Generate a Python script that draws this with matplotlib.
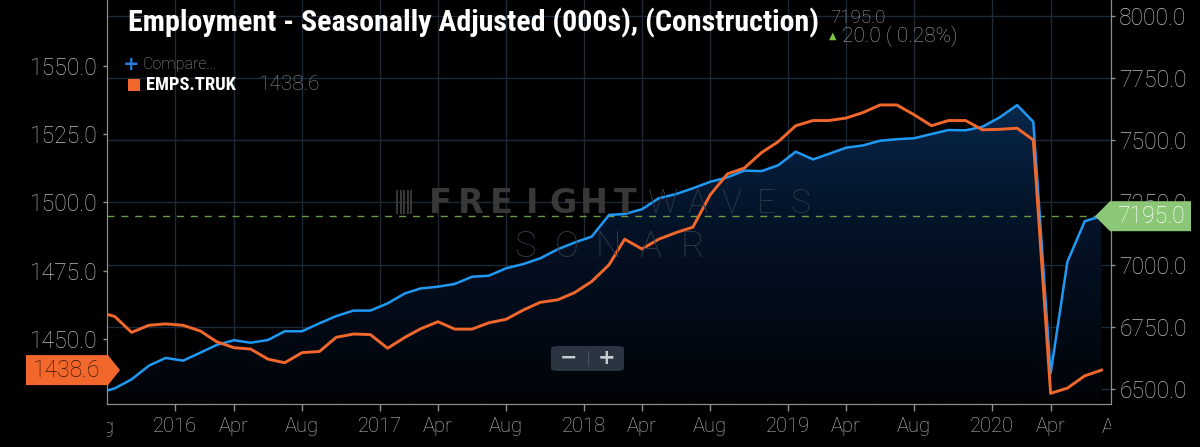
import numpy as np
import pandas as pd
import matplotlib
matplotlib.use('Agg')
import matplotlib.pyplot as plt
import matplotlib.dates as mdates
from matplotlib import font_manager
from matplotlib.font_manager import FontProperties
from matplotlib.colors import LinearSegmentedColormap
from matplotlib.patches import Polygon, FancyBboxPatch, Rectangle
from matplotlib.transforms import Bbox, TransformedBbox, blended_transform_factory

## monthly data, mid-month stamps, Aug 2015 .. Jul 2020
dates = pd.date_range('2015-08-01', '2020-07-01', freq='MS') + pd.Timedelta(days=14)

# Employment - Seasonally Adjusted (000s), Construction (right axis)
construction = [6483, 6504, 6540, 6595, 6626,
	6615, 6647, 6678, 6697, 6687, 6698, 6733, 6733, 6765, 6794, 6816, 6816,
	6845, 6885, 6905, 6912, 6923, 6952, 6956, 6986, 7003, 7026, 7062, 7089,
	7113, 7200, 7204, 7223, 7267, 7284, 7307, 7333, 7351, 7378, 7376, 7400,
	7454, 7423, 7445, 7470, 7479, 7498, 7504, 7508, 7525, 7541, 7540, 7554,
	7592, 7641, 7574, 6564, 7012, 7175, 7195]

# EMPS.TRUK (left axis)
trucking = [1460.0, 1458.2, 1452.4, 1455.0, 1455.5,
	1455.0, 1452.9, 1449.0, 1446.8, 1446.3, 1442.6, 1441.3, 1445.0, 1445.4, 1450.6, 1451.8, 1451.6,
	1446.6, 1450.6, 1453.7, 1456.3, 1453.6, 1453.6, 1455.9, 1457.2, 1460.6, 1463.4, 1464.3, 1466.9,
	1471.0, 1477.1, 1486.5, 1482.9, 1486.5, 1488.9, 1490.9, 1502.7, 1510.4, 1512.5, 1518.2, 1522.2,
	1528.0, 1529.9, 1529.9, 1530.8, 1532.8, 1535.6, 1535.6, 1532.0, 1528.0, 1529.9, 1529.9, 1526.5,
	1526.7, 1527.1, 1522.8, 1430.1, 1432.0, 1436.5, 1438.6]

left_ticks = [1450.0, 1475.0, 1500.0, 1525.0, 1550.0]
right_ticks = [6500.0, 6750.0, 7000.0, 7250.0, 7500.0, 7750.0, 8000.0]
title = 'Employment - Seasonally Adjusted (000s), (Construction)'
series_name = 'EMPS.TRUK'
change = 20.0
change_pct = 0.28

W, H = 1200, 447
BLUE = '#1f99f4'
ORANGE = '#f2682c'
GREEN = '#8cc677'
GRID = '#1d2936'
SPINE = '#8f8f8f'
TICKTXT = '#bcbcbc'

def fx(x): return x/W
def fy(y): return 1 - y/H

TICKFONT = dict(family=['Roboto', 'DejaVu Sans'], weight='light')

def pick_narrow_bold():
	## look for an installed condensed/narrow bold face, else Roboto bold
	best = None
	for f in font_manager.fontManager.ttflist:
		w = f.weight if isinstance(f.weight, int) else font_manager.weight_dict.get(f.weight, 400)
		tag = (f.name + ' ' + f.fname + ' ' + str(f.stretch)).lower()
		if w < 600 or not ('condensed' in tag or 'narrow' in tag):
			continue
		if 'italic' in f.fname.lower() or 'oblique' in f.fname.lower() or f.style != 'normal':
			continue
		if 'extra' in tag or 'ultra' in tag or 'semi' in tag:
			continue
		rank = 0 if 'roboto' in tag else 1 if 'liberation' in tag else 2 if 'noto' in tag else 3
		if best is None or rank < best[0] or (rank == best[0] and w < best[1]):
			best = (rank, w, f.fname)
	if best:
		return FontProperties(fname=best[2])
	return FontProperties(family='Roboto', weight='bold')

NARROW = pick_narrow_bold()

def fit_width(t, width_px):
	r = fig.canvas.get_renderer()
	w = t.get_window_extent(renderer=r).width
	t.set_fontsize(t.get_fontsize()*width_px/w)

fig = plt.figure(figsize=(W/100, H/100), dpi=100, facecolor='black')
ax = fig.add_axes([fx(107), fy(404), fx(1111)-fx(107), fy(0)-fy(404)])
ax.set_facecolor('black')
ax2 = ax.twinx()

xmin, xmax = pd.Timestamp('2015-09-01'), pd.Timestamp('2020-08-01')

## gradient area under construction series
grad = np.linspace(1, 0, 256).reshape(-1, 1)
cmap = LinearSegmentedColormap.from_list('fill', ['#010307', '#04152c', '#0d3c6c'])
im = ax.imshow(grad, cmap=cmap, aspect='auto', origin='upper', zorder=1,
	extent=[mdates.date2num(xmin), mdates.date2num(xmax), 6441, 8063])
fill = ax.fill_between(dates, construction, 6441, facecolor='none', edgecolor='none')
im.set_clip_path(fill.get_paths()[0], transform=ax.transData)
ax.set_xlim(xmin, xmax)
ax.set_ylim(6441, 8063)
ax2.set_ylim(1426.2, 1574.0)

ax.plot(dates, construction, color=BLUE, lw=1.8, zorder=3)
ax.hlines(construction[-1], xmin, dates[-1], colors='#6b9a45', lw=1, linestyles=(0, (5, 5)), zorder=2)
ax2.plot(dates, trucking, color=ORANGE, lw=2.1, zorder=3)

## ticks
tick_dates, tick_labels = [], []
for yr in range(2016, 2021):
	for d, lab in [(pd.Timestamp(yr, 1, 1), str(yr)), (pd.Timestamp(yr, 4, 15), 'Apr'), (pd.Timestamp(yr, 8, 15), 'Aug')]:
		if xmin <= d <= xmax:
			tick_dates.append(d)
			tick_labels.append(lab)
ax.set_xticks(tick_dates)
ax.set_xticklabels(tick_labels, fontsize=14.5, color=TICKTXT, **TICKFONT)
ax.tick_params(axis='x', length=5, width=1, color=SPINE, pad=4.5)

ax.yaxis.tick_right()
ax.set_yticks(right_ticks)
ax.set_yticklabels(['%.1f' % v for v in right_ticks], fontsize=16.5, color=TICKTXT, **TICKFONT)
ax.tick_params(axis='y', length=3, width=1, color=SPINE, pad=3)
ax2.yaxis.tick_left()
ax2.set_yticks(left_ticks)
ax2.set_yticklabels(['%.1f' % v for v in left_ticks], fontsize=16.5, color=TICKTXT, **TICKFONT)
ax2.tick_params(axis='y', length=3, width=1, color=SPINE, pad=4)

ax.grid(True, color=GRID, lw=1, zorder=0)
ax.set_axisbelow(True)
for a in (ax, ax2):
	for s in a.spines.values():
		s.set_color(SPINE)
	a.spines['top'].set_visible(False)

## month labels cut by the axes edges (Aug 2015, Aug 2020)
clip = TransformedBbox(Bbox([[0, -0.3], [1, 1]]), ax.transAxes)
xt = blended_transform_factory(ax.transData, ax.transAxes)
for d in [pd.Timestamp(2015, 8, 15), pd.Timestamp(2020, 8, 15)]:
	t = ax.text(d, -0.058, 'Aug', transform=xt, ha='center', va='center', fontsize=14.5,
		color=TICKTXT, clip_on=True, **TICKFONT)
	t.set_clip_box(clip)

## value flags on the axes
def px_of(axis, value):
	return H - axis.transData.transform((0, value))[1]

yo = px_of(ax2, trucking[-1])
fig.add_artist(Polygon([[fx(26), fy(yo-15)], [fx(108), fy(yo-15)], [fx(120), fy(yo)], [fx(108), fy(yo+15)], [fx(26), fy(yo+15)]],
	closed=True, transform=fig.transFigure, facecolor=ORANGE, edgecolor='none', zorder=10))
fig.text(fx(67), fy(yo), '%.1f' % trucking[-1], ha='center', va='center', fontsize=16.5, color='#3d1606', zorder=11, **TICKFONT)

yb = px_of(ax, construction[-1])
fig.add_artist(Polygon([[fx(1095), fy(yb)], [fx(1110), fy(yb-15)], [fx(1191), fy(yb-15)], [fx(1191), fy(yb+15)], [fx(1110), fy(yb+15)]],
	closed=True, transform=fig.transFigure, facecolor=GREEN, edgecolor='none', zorder=10))
fig.text(fx(1151), fy(yb), '%.1f' % construction[-1], ha='center', va='center', fontsize=16.5, color='white', zorder=11, **TICKFONT)

## title block
tt = fig.text(fx(128), fy(31), title, color='white', fontproperties=NARROW, va='baseline', zorder=11)
tt.set_fontsize(20)
fit_width(tt, 690)
fig.text(fx(830), fy(23), '%.1f' % construction[-1], fontsize=13.5, color='#a4a4a4', va='baseline', **TICKFONT)
fig.text(fx(833), fy(36), '\u25B2', fontsize=7, color='#7cc243', ha='center', va='center', family='DejaVu Sans')
fig.text(fx(842), fy(41), '%.1f ( %.2f%%)' % (change, change_pct), fontsize=15, color='#a4a4a4', va='baseline', **TICKFONT)

## legend
fig.text(fx(131), fy(64), '+', fontsize=14, color='#2a7de1', ha='center', va='center', weight='bold', family='DejaVu Sans')
fig.text(fx(143), fy(64), 'Compare...', fontsize=11.5, color='#9a9a9a', va='center', **TICKFONT)
fig.add_artist(Rectangle((fx(128), fy(91)), fx(12), fy(79)-fy(91), transform=fig.transFigure, facecolor=ORANGE, edgecolor='none'))
st = fig.text(fx(146), fy(85), series_name, color='white', va='center', fontproperties=NARROW)
st.set_fontsize(13)
fit_width(st, 90)
fig.text(fx(258), fy(85), '%.1f' % trucking[-1], fontsize=15, color='#8c8c8c', va='center', **TICKFONT)

## watermark, letters spread over the logo width
def spread(word, x0, x1, ybase, **kw):
	xs = np.linspace(x0, x1, len(word))
	for ch, x in zip(word, xs):
		fig.text(fx(x), fy(ybase), ch, ha='center', va='baseline', zorder=0.5, **kw)

spread('FREIGHT', 440, 625, 213, fontsize=24, weight='bold', color='#383838', family='DejaVu Sans')
spread('WAVES', 663, 800, 213, fontsize=24, color='#2f3a47', family='Roboto', weight='light')
spread('SONAR', 525, 692, 257, fontsize=26, color='#2f3a47', family='Roboto', weight='light')
for i in range(5):
	fig.add_artist(Rectangle((fx(396 + 3.5*i), fy(214)), fx(2), fy(190)-fy(214), transform=fig.transFigure,
		facecolor='#383838', edgecolor='none'))

## zoom control
fig.add_artist(FancyBboxPatch((fx(551), fy(371)), fx(73), fy(346)-fy(371), boxstyle='round,pad=0,rounding_size=0.006',
	transform=fig.transFigure, facecolor='#2a3541', edgecolor='none', zorder=10))
fig.add_artist(Rectangle((fx(588), fy(366)), fx(1), fy(351)-fy(366), transform=fig.transFigure, facecolor='#46525e', edgecolor='none', zorder=11))
fig.text(fx(569), fy(358), '\u2212', fontsize=15, weight='bold', color='#c8ccd0', ha='center', va='center', family='DejaVu Sans', zorder=12)
fig.text(fx(607), fy(358), '+', fontsize=15, weight='bold', color='#c8ccd0', ha='center', va='center', family='DejaVu Sans', zorder=12)

fig.savefig('out.png', dpi=100, facecolor='black')
